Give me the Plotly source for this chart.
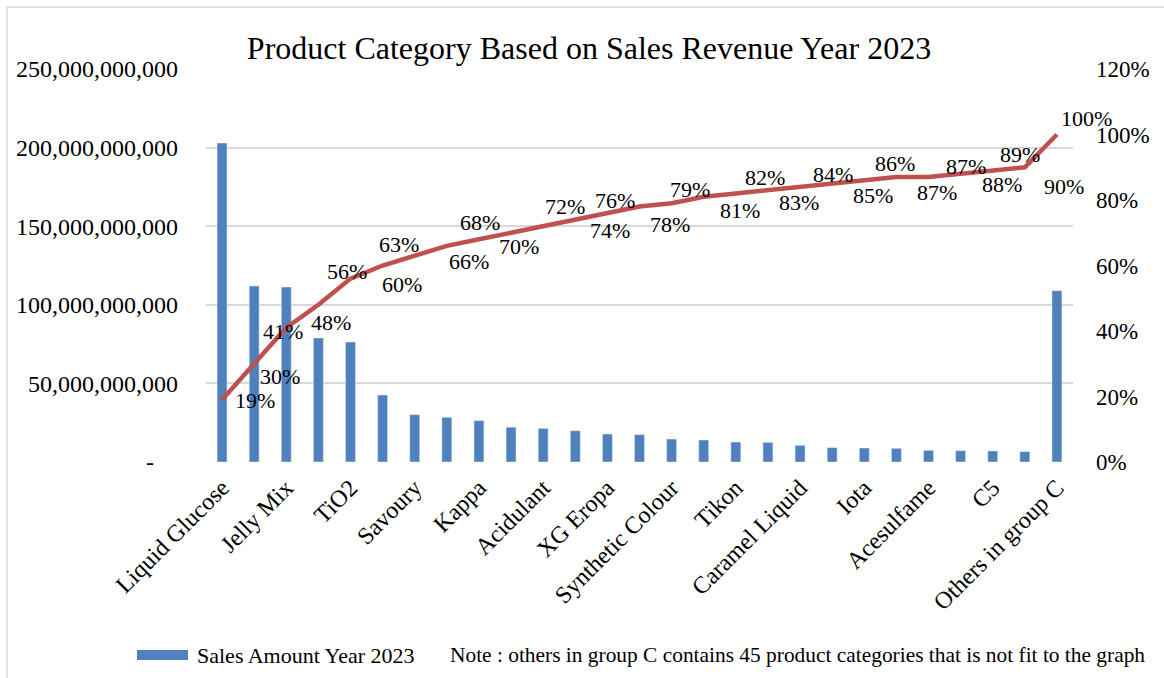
import plotly.graph_objects as go

# ---- data ----
tick_names = ["Liquid Glucose", "Jelly Mix", "TiO2", "Savoury", "Kappa", "Acidulant",
              "XG Eropa", "Synthetic Colour", "Tikon", "Caramel Liquid", "Iota",
              "Acesulfame", "C5", "Others in group C"]
sales = [202.9e9, 112.0e9, 111.3e9, 78.9e9, 76.3e9, 42.6e9, 30.1e9, 28.4e9, 26.3e9,
         22.1e9, 21.4e9, 19.9e9, 17.8e9, 17.4e9, 14.6e9, 14.0e9, 12.7e9, 12.5e9,
         10.6e9, 9.1e9, 8.9e9, 8.7e9, 7.4e9, 7.2e9, 7.0e9, 6.6e9, 109.0e9]
cum_pct = [19, 30, 41, 48, 56, 60, 63, 66, 68, 70, 72, 74, 76, 78, 79, 81, 82, 83,
           84, 85, 86, 87, 87, 88, 89, 90, 100]
left_ticks = [0, 50e9, 100e9, 150e9, 200e9, 250e9]
left_ticktext = ["-\u00a0\u00a0\u00a0\u00a0", "50,000,000,000", "100,000,000,000",
                 "150,000,000,000", "200,000,000,000", "250,000,000,000"]
right_ticks = [0, 20, 40, 60, 80, 100, 120]
right_ticktext = [f"{v}%" for v in right_ticks]

# label offsets (style only)
label_dx = [33, 26, -3, 13, -4, 19, -16, 22, 1, 8, 22, 35, 8, 30, 18, 36, 29, 31,
            33, 41, 31, 41, 37, 41, 27, 39, 30]
label_dy = [-1, -13, -4, -18, 7, -19, 11, -16, 17, -14, 20, -11, 13, -18, 14, -14,
            16, -12, 12, -12, 17, -15, 11, -11, 16, -19, 16]

FONT = "Liberation Serif"
n = len(sales)
xs = list(range(n))

fig = go.Figure()
fig.add_trace(go.Bar(x=xs, y=sales, marker_color="#4F81BD", name="Sales Amount Year 2023",
                     showlegend=False))
fig.add_trace(go.Scatter(x=xs, y=cum_pct, yaxis="y2", mode="lines",
                         line=dict(color="#C0504D", width=4.5), showlegend=False,
                         name="Cumulative %"))

W, H = 1164, 678
L, R, T, B = 206, 91, 69, 216
pw, ph = W - L - R, H - T - B


def px(xp):
    return (xp - L) / pw


def py(yp):
    return (H - B - yp) / ph


annotations = []
for i, p in enumerate(cum_pct):
    annotations.append(dict(x=i, y=p, xref="x", yref="y2", text=f"{p}%", showarrow=False,
                            xshift=label_dx[i], yshift=label_dy[i],
                            font=dict(family=FONT, size=22, color="black")))

annotations.append(dict(x=px(195), y=py(655), xref="paper", yref="paper",
                        text="Sales Amount Year 2023", showarrow=False, xanchor="left",
                        yanchor="middle", font=dict(family=FONT, size=22, color="black")))
annotations.append(dict(x=px(448), y=py(655), xref="paper", yref="paper",
                        text="Note : others in group C contains 45 product categories that is not fit to the graph",
                        showarrow=False, xanchor="left", yanchor="middle",
                        font=dict(family=FONT, size=21.4, color="black")))

shapes = [
    dict(type="rect", xref="paper", yref="paper", x0=px(137), x1=px(188), y0=py(660), y1=py(650),
         fillcolor="#4F81BD", line=dict(width=0)),
    dict(type="rect", xref="paper", yref="paper", x0=px(7), x1=px(1180), y0=py(700), y1=py(7),
         line=dict(color="#d9d9d9", width=1.5), fillcolor="rgba(0,0,0,0)", layer="below"),
]

fig.update_layout(
    width=W, height=H,
    margin=dict(l=L, r=R, t=T, b=B, pad=0),
    paper_bgcolor="white", plot_bgcolor="white",
    font=dict(family=FONT, size=22, color="black"),
    title=dict(text="Product Category Based on Sales Revenue Year 2023",
               x=589 / W, xanchor="center", y=1 - 48 / H, yanchor="middle",
               font=dict(family=FONT, size=32, color="black")),
    bargap=0.69,
    xaxis=dict(range=[-0.5, n - 0.5], tickmode="array", tickvals=xs[::2], ticktext=tick_names,
               tickangle=-45, showgrid=False, zeroline=False, showline=False,
               tickfont=dict(family=FONT, size=24, color="black"), ticklabelstandoff=6),
    yaxis=dict(range=[0, 250e9], tickmode="array", tickvals=left_ticks, ticktext=left_ticktext,
               showgrid=True, gridcolor="#d9d9d9", gridwidth=1.5, zeroline=False,
               tickfont=dict(family=FONT, size=24, color="black"), ticklabelstandoff=27),
    yaxis2=dict(range=[0, 120], overlaying="y", side="right", tickmode="array",
                tickvals=right_ticks, ticktext=right_ticktext, showgrid=False, zeroline=False,
                tickfont=dict(family=FONT, size=23, color="black"), ticklabelstandoff=22),
    annotations=annotations,
    shapes=shapes,
    showlegend=False,
)

fig.write_html("out.html")
